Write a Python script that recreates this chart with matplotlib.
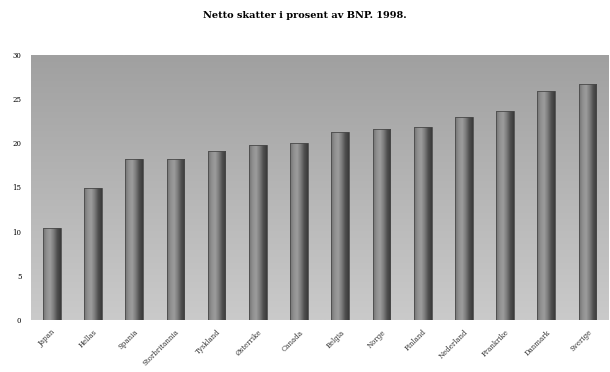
import numpy as np
import matplotlib
matplotlib.use("Agg")
import matplotlib.pyplot as plt
from matplotlib.colors import LinearSegmentedColormap

countries = ["Japan", "Hellas", "Spania", "Storbritannia", "Tyskland", "Østerrike",
             "Canada", "Belgia", "Norge", "Finland", "Nederland", "Frankrike",
             "Danmark", "Sverige"]
values = [10.4, 14.9, 18.2, 18.2, 19.1, 19.8, 20.0, 21.3, 21.6, 21.9, 23.0, 23.7, 25.9, 26.7]
yticks = [0, 5, 10, 15, 20, 25, 30]
title = "Netto skatter i prosent av BNP. 1998."

fig = plt.figure(figsize=(6.1, 3.72), dpi=100)
ax = fig.add_axes([0.051, 0.14, 0.946, 0.712])

x = np.arange(len(countries))
ax.set_xlim(-0.5, len(countries) - 0.5)
ax.set_ylim(0, 30)

# background gradient: darker at top, lighter at bottom
bg = np.linspace(0, 1, 256).reshape(-1, 1)
bg_cmap = LinearSegmentedColormap.from_list("bg", ["#cacaca", "#a0a0a0"])
ax.imshow(bg, cmap=bg_cmap, extent=[-0.5, len(countries) - 0.5, 0, 30],
          origin="lower", aspect="auto", zorder=0)

bars = ax.bar(x, values, width=0.43, color="none", edgecolor="#4a4a4a",
              linewidth=0.6, zorder=3)
bar_cmap = LinearSegmentedColormap.from_list(
    "bar", ["#727272", "#909090", "#9c9c9c", "#7c7c7c", "#505050", "#3a3a3a"])
grad = np.linspace(0, 1, 64).reshape(1, -1)
for b in bars:
    x0, w, h = b.get_x(), b.get_width(), b.get_height()
    im = ax.imshow(grad, cmap=bar_cmap, extent=[x0, x0 + w, 0, h],
                   origin="lower", aspect="auto", zorder=2)
    im.set_clip_path(b)

ax.set_xlim(-0.5, len(countries) - 0.5)
ax.set_ylim(0, 30)
ax.set_yticks(yticks)
ax.set_yticklabels([str(v) for v in yticks], fontsize=5, family="DejaVu Serif")
ax.set_xticks(x)
ax.set_xticklabels(countries, rotation=45, ha="right", rotation_mode="anchor",
                   fontsize=5, family="DejaVu Serif", color="#333333")
ax.tick_params(axis="y", length=0, pad=7)
ax.tick_params(axis="x", length=0, pad=6)
for s in ax.spines.values():
    s.set_visible(False)

fig.text(0.5, 0.958, title, ha="center", va="center", fontsize=7,
         fontweight="bold", family="DejaVu Serif")

fig.savefig("out.png", dpi=100)
